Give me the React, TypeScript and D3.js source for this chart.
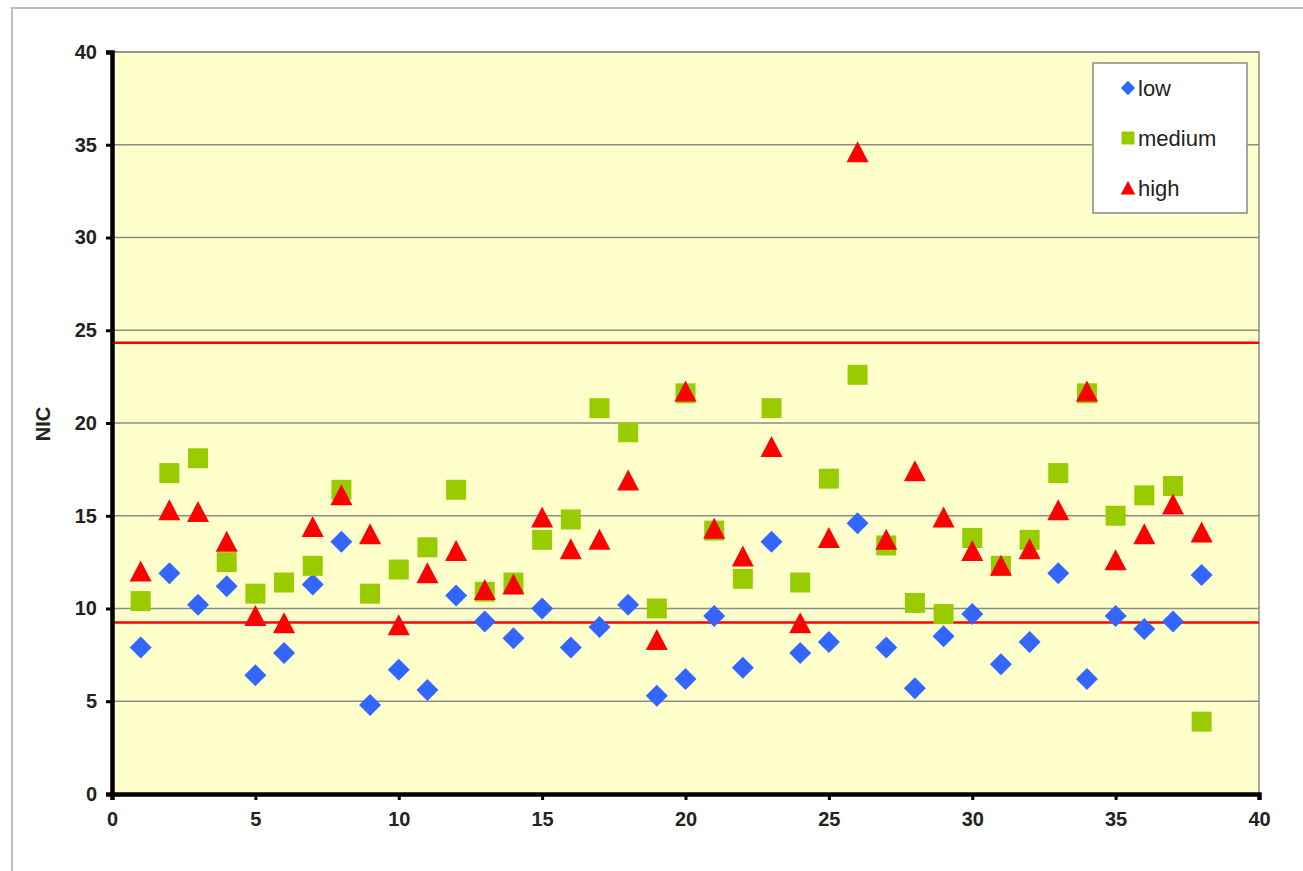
import React, { useRef, useEffect } from 'react';
import * as d3 from 'd3';

// Sample index 1..38
const samples = d3.range(1, 39);

const lowValues = [
  7.9, 11.9, 10.2, 11.2, 6.4, 7.6, 11.3, 13.6, 4.8, 6.7,
  5.6, 10.7, 9.3, 8.4, 10.0, 7.9, 9.0, 10.2, 5.3, 6.2,
  9.6, 6.8, 13.6, 7.6, 8.2, 14.6, 7.9, 5.7, 8.5, 9.7,
  7.0, 8.2, 11.9, 6.2, 9.6, 8.9, 9.3, 11.8
];

const mediumValues = [
  10.4, 17.3, 18.1, 12.5, 10.8, 11.4, 12.3, 16.4, 10.8, 12.1,
  13.3, 16.4, 10.9, 11.4, 13.7, 14.8, 20.8, 19.5, 10.0, 21.6,
  14.2, 11.6, 20.8, 11.4, 17.0, 22.6, 13.4, 10.3, 9.7, 13.8,
  12.3, 13.7, 17.3, 21.6, 15.0, 16.1, 16.6, 3.9
];

const highValues = [
  12.0, 15.3, 15.2, 13.6, 9.6, 9.2, 14.4, 16.1, 14.0, 9.1,
  11.9, 13.1, 11.0, 11.3, 14.9, 13.2, 13.7, 16.9, 8.3, 21.7,
  14.3, 12.8, 18.7, 9.2, 13.8, 34.6, 13.7, 17.4, 14.9, 13.1,
  12.3, 13.2, 15.3, 21.7, 12.6, 14.0, 15.6, 14.1
];

const seriesNames = ['low', 'medium', 'high'];
const seriesColors = ['#3366ff', '#99cc00', '#ff0000'];

// control limits drawn as red horizontal lines
const limitValues = [24.33, 9.25];

const xTicks = [0, 5, 10, 15, 20, 25, 30, 35, 40];
const yTicks = [0, 5, 10, 15, 20, 25, 30, 35, 40];

const FONT = '"Liberation Sans", Arial, sans-serif';

// marker path centered on 0,0
function markerPath(kind: string): string {
  if (kind === 'low') return 'M0,-11L11,0L0,11L-11,0Z';
  if (kind === 'medium') return 'M-10,-10H10V10H-10Z';
  return 'M0,-11L11,10L-11,10Z';
}

const App = () => {
  const ref = useRef<SVGSVGElement>(null);

  useEffect(() => {
    const root = d3.select(ref.current);
    root.selectAll('*').remove();

    const width = 1303;
    const height = 871;
    const left = 112;
    const right = 1259;
    const top = 52;
    const bottom = 794;

    root.attr('width', width).attr('height', height);

    // outer chart frame
    root.append('rect')
      .attr('x', 12).attr('y', 8)
      .attr('width', width + 20).attr('height', height + 20)
      .attr('fill', '#fff')
      .attr('stroke', '#c0c0c0')
      .attr('stroke-width', 2);

    const x = d3.scaleLinear().domain([0, 40]).range([left, right]);
    const y = d3.scaleLinear().domain([0, 40]).range([bottom, top]);

    // plot area
    root.append('rect')
      .attr('x', left).attr('y', top)
      .attr('width', right - left).attr('height', bottom - top)
      .attr('fill', '#ffffcc')
      .attr('stroke', '#8c8c84')
      .attr('stroke-width', 1.5);

    // horizontal gridlines
    root.append('g')
      .selectAll('line')
      .data(yTicks.filter(d => d > 0))
      .join('line')
      .attr('x1', left).attr('x2', right)
      .attr('y1', d => y(d)).attr('y2', d => y(d))
      .attr('stroke', '#8c8c84')
      .attr('stroke-width', 1.5);

    // red limit lines
    root.append('g')
      .selectAll('line')
      .data(limitValues)
      .join('line')
      .attr('x1', left).attr('x2', right)
      .attr('y1', d => y(d)).attr('y2', d => y(d))
      .attr('stroke', '#ff0000')
      .attr('stroke-width', 2.5);

    // axes
    const yAxis = root.append('g')
      .attr('transform', `translate(${left},0)`)
      .call(d3.axisLeft(y).tickValues(yTicks).tickSize(6).tickPadding(9));
    const xAxis = root.append('g')
      .attr('transform', `translate(0,${bottom})`)
      .call(d3.axisBottom(x).tickValues(xTicks).tickSize(6).tickPadding(12));

    [yAxis, xAxis].forEach(g => {
      g.select('.domain').attr('stroke', '#000').attr('stroke-width', 4.5);
      g.selectAll('.tick line').attr('stroke', '#000').attr('stroke-width', 3);
      g.selectAll('.tick text')
        .attr('fill', '#222')
        .style('font-family', FONT)
        .style('font-size', '20px')
        .style('font-weight', 'bold');
    });

    // axis title
    root.append('text')
      .attr('transform', 'translate(50,424) rotate(-90)')
      .attr('text-anchor', 'middle')
      .style('font-family', FONT)
      .style('font-size', '20px')
      .style('font-weight', 'bold')
      .attr('fill', '#222')
      .text('NIC');

    // series markers
    const allSeries = [lowValues, mediumValues, highValues];
    allSeries.forEach((vals, i) => {
      root.append('g')
        .selectAll('path')
        .data(vals)
        .join('path')
        .attr('transform', (d, j) => `translate(${x(samples[j])},${y(d)})`)
        .attr('d', markerPath(seriesNames[i]))
        .attr('fill', seriesColors[i]);
    });

    // legend
    const legend = root.append('g').attr('transform', 'translate(1093,63)');
    legend.append('rect')
      .attr('width', 154).attr('height', 150)
      .attr('fill', '#fff')
      .attr('stroke', '#888')
      .attr('stroke-width', 1.5);
    seriesNames.forEach((name, i) => {
      const row = legend.append('g').attr('transform', `translate(35,${25 + i * 50})`);
      row.append('path')
        .attr('d', markerPath(name))
        .attr('transform', 'scale(0.65)')
        .attr('fill', seriesColors[i]);
      row.append('text')
        .attr('x', 10).attr('y', 8)
        .style('font-family', FONT)
        .style('font-size', '22px')
        .attr('fill', '#222')
        .text(name);
    });
  }, []);

  return <svg ref={ref} style={{ position: 'absolute', left: 0, top: 0 }}></svg>;
};

export default App;
